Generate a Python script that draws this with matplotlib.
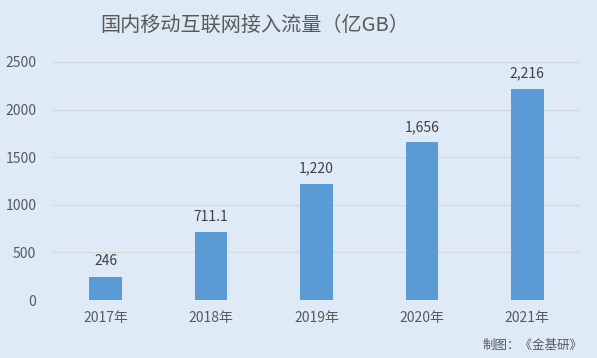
import matplotlib.pyplot as plt

plt.rcParams['font.family'] = ['Noto Sans CJK SC', 'DejaVu Sans']

years = ["2017年", "2018年", "2019年", "2020年", "2021年"]
traffic = [246, 711.1, 1220, 1656, 2216]
labels = ["246", "711.1", "1,220", "1,656", "2,216"]

bg = "#DEEBF7"
fig = plt.figure(figsize=(5.97, 3.58), dpi=100, facecolor=bg)
ax = fig.add_axes([0.0888, 0.162, 0.8827, 0.665], facecolor=bg)

x = range(len(years))
ax.bar(x, traffic, width=0.31, color="#5B9BD5", zorder=3)
for i, v in enumerate(traffic):
    ax.annotate(labels[i], (i, v), xytext=(0, 6), textcoords="offset points",
                ha="center", va="bottom", fontsize=10, color="#404040")

ax.set_xlim(-0.5, 4.5)
ax.set_ylim(0, 2500)
ax.set_yticks(range(0, 2501, 500))
ax.set_xticks(list(x))
ax.set_xticklabels(years)
ax.tick_params(axis="both", length=0, labelsize=10, colors="#595959")
ax.tick_params(axis="y", pad=12)
ax.tick_params(axis="x", pad=8)
ax.grid(axis="y", color="#D9D9D9", linewidth=1, zorder=0)
for s in ax.spines.values():
    s.set_visible(False)

fig.text(255 / 597, 1 - 25 / 358, "国内移动互联网接入流量（亿GB）", ha="center", va="center",
         fontsize=14.5, color="#595959")
fig.text(583 / 597, 1 - 345 / 358, "制图：《金基研》", ha="right", va="center",
         fontsize=9, color="#595959")

plt.savefig("out.png", dpi=100, facecolor=bg)
